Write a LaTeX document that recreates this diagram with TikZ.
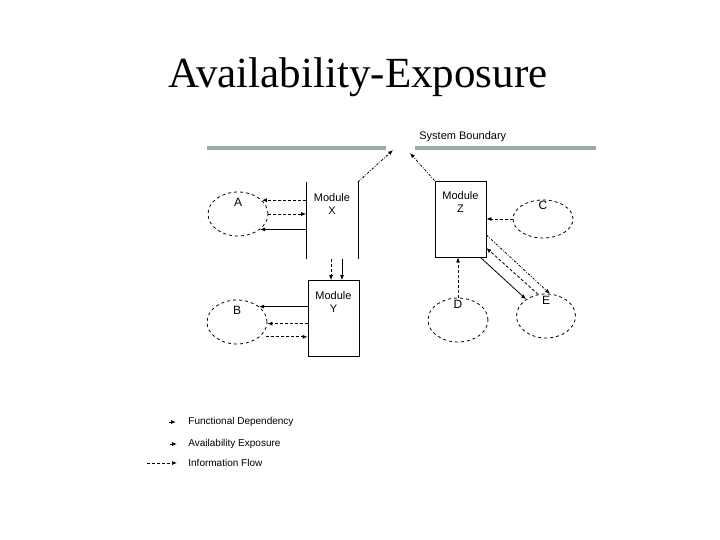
\documentclass[tikz,border=0pt]{standalone}
\usepackage{fontspec}
\setmainfont{Liberation Serif}
\setsansfont{Liberation Sans}
\usetikzlibrary{arrows.meta, positioning, shapes.geometric}
\definecolor{bndgray}{RGB}{158,168,164}

\begin{document}
\begin{tikzpicture}[x=1pt, y=-1pt, line width=0.8pt, >={Latex[length=5pt,width=4pt]},
    every node/.style={font=\sffamily\fontsize{11}{13}\selectfont},
    module/.style={rectangle, minimum width=51pt, minimum height=76pt, inner sep=0pt},
    modname/.style={anchor=north, align=center, inner sep=0pt, yshift=-11pt},
    comp/.style={ellipse, draw, dashed, minimum width=60pt, minimum height=44pt, inner sep=0pt},
    letter/.style={anchor=north, font=\sffamily\fontsize{12}{14}\selectfont},
    title/.style={font=\rmfamily\fontsize{43}{50}\selectfont, anchor=base},
    legend/.style={anchor=west, inner sep=0pt, font=\sffamily\fontsize{10}{12}\selectfont},
    info/.style={->, dash pattern=on 3pt off 2pt},
    avail/.style={->, dash pattern=on 2.5pt off 1.5pt on 0.8pt off 1.5pt},
    func/.style={->}]
    \useasboundingbox (0,0) rectangle (720,540);

    \node[title] (head) at (358,88) {Availability-Exposure};

    % system boundary
    \draw[bndgray, line width=4pt] (207,148) -- (386,148) (415,148) -- (596,148);
    \node[anchor=west, inner sep=0pt] (bound) at (419,137) {System Boundary};
    \coordinate (bl) at (393,150);
    \coordinate (br) at (410,153);

    \node[module, label={[modname]north:Module\\X}] (modx) at (332,220.5) {};
    \draw (modx.north west) -- (modx.south west) (modx.north east) -- (modx.south east);
    \node[module, draw, label={[modname]north:Module\\Y}] (mody) at (333.5,318.5) {};
    \node[module, draw, label={[modname]north:Module\\Z}] (modz) at (460.5,219) {};

    \node[comp, label={[letter, inner sep=6pt]north:A}] (a) at (238,214) {};
    \node[comp, label={[letter, inner sep=6pt]north:B}] (b) at (237,322) {};
    \node[comp, minimum height=38pt, label={[letter, inner sep=1pt]north:C}] (c) at (543,219) {};
    \node[comp, label={[letter, inner sep=2pt]north:D}] (d) at (458,320) {};
    \node[comp, minimum width=59pt, label={[letter, inner sep=2pt]north:E}] (e) at (546,316) {};

    \draw[avail] (modx.north east) -- (bl);
    \draw[avail] (modz.north west) -- (br);

    \draw[info] (modx.west |- a.30) -- (a.30);
    \draw[info] (a.east) -- (modx.west |- a.east);
    \draw[func] (modx.west |- a.-35) -- (a.-35);

    \draw[info] ([xshift=-1pt]modx.south) -- ([xshift=-1pt]modx.south |- mody.north);
    \draw[func] ([xshift=10pt]modx.south) -- ([xshift=10pt]modx.south |- mody.north);

    \draw[func] (mody.west |- b.35) -- (b.35);
    \draw[info] (mody.west |- b.-3) -- (b.-3);
    \draw[info, shorten <=6pt] (b.-33) -- (mody.west |- b.-33);

    \draw[info] (c.west) -- (modz.east |- c.west);
    \draw[info] (d.north) -- (d.north |- modz.south);
    \draw[avail] ([yshift=-16pt]modz.east) -- (e.80);
    \draw[info] (e.110) -- ([yshift=-29pt]modz.east);
    \draw[func] ([xshift=-6pt]modz.south east) -- (e.140);

    % legend
    \node[legend] (lfun) at (188,422) {Functional Dependency};
    \node[legend] (lav) at (188,444) {Availability Exposure};
    \node[legend] (linf) at (188,463) {Information Flow};
    \draw[func] ([xshift=-19pt]lfun.west) -- ([xshift=-12pt]lfun.west);
    \draw[avail] ([xshift=-18pt]lav.west) -- ([xshift=-11pt]lav.west);
    \draw[info] ([xshift=-41pt]linf.west) -- ([xshift=-11pt]linf.west);
\end{tikzpicture}
\end{document}
